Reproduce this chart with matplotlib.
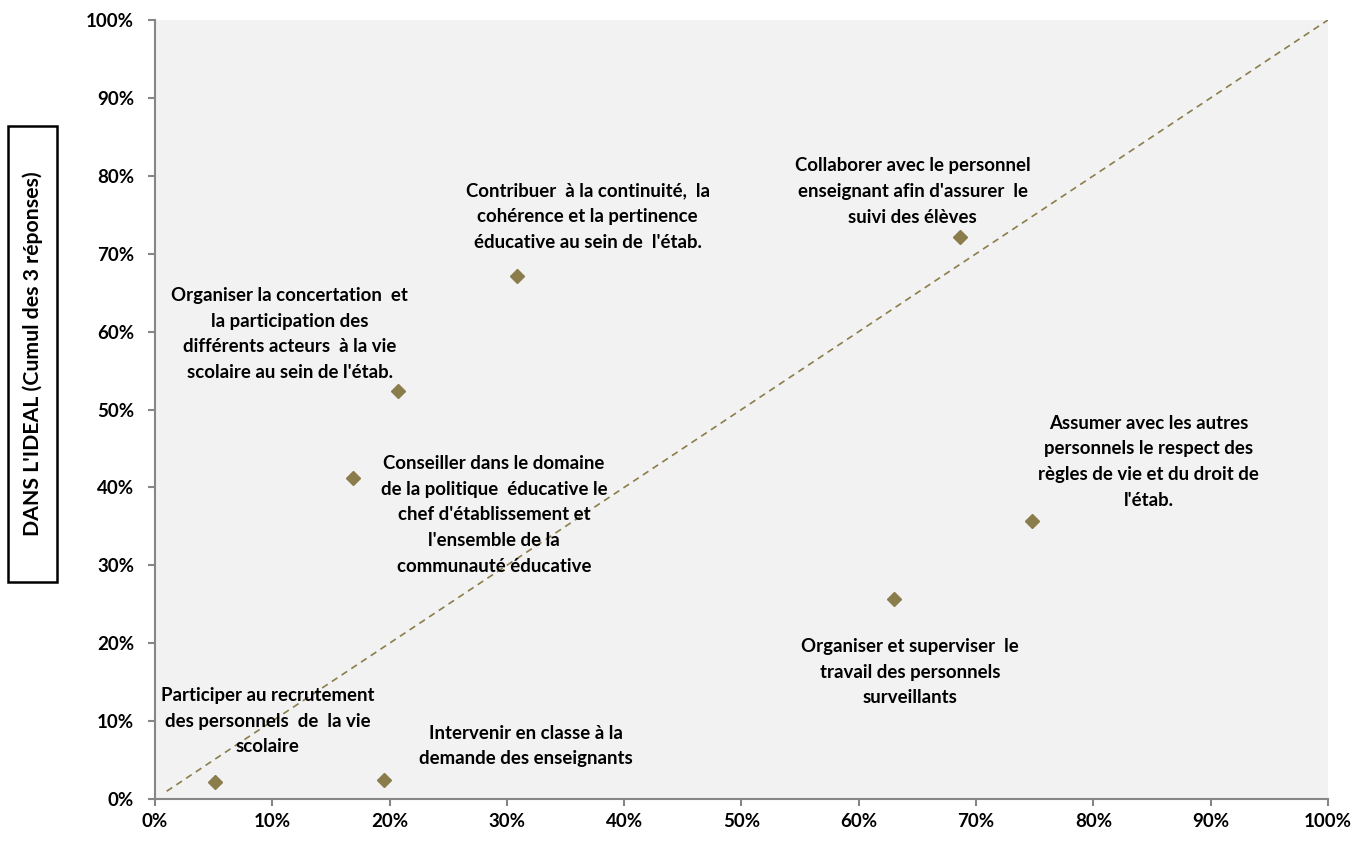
import matplotlib
matplotlib.use("Agg")
import matplotlib.pyplot as plt
from matplotlib.patches import Rectangle
from matplotlib.ticker import PercentFormatter

plt.rcParams['font.family'] = ['Lato', 'DejaVu Sans']

# valeurs (en %)
labels = [
    "Participer au recrutement\ndes personnels  de  la vie\nscolaire",
    "Intervenir en classe à la\ndemande des enseignants",
    "Conseiller dans le domaine\nde la politique  éducative le\nchef d'établissement et\nl'ensemble de la\ncommunauté éducative",
    "Organiser la concertation  et\nla participation des\ndifférents acteurs  à la vie\nscolaire au sein de l'étab.",
    "Contribuer  à la continuité,  la\ncohérence et la pertinence\néducative au sein de  l'étab.",
    "Collaborer avec le personnel\nenseignant afin d'assurer  le\nsuivi des élèves",
    "Organiser et superviser  le\ntravail des personnels\nsurveillants",
    "Assumer avec les autres\npersonnels le respect des\nrègles de vie et du droit de\nl'étab.",
]
x_vals = [5.1, 19.5, 16.9, 20.7, 30.9, 68.6, 63.0, 74.8]
y_vals = [2.2, 2.4, 41.2, 52.4, 67.1, 72.1, 25.7, 35.7]
label_x = [9.6, 31.6, 28.9, 11.5, 36.9, 64.6, 64.4, 84.7]
label_y = [10.0, 6.8, 36.5, 59.7, 74.8, 78.0, 16.3, 43.3]

diag_x = [1, 100]
diag_y = [1, 100]

fig = plt.figure(figsize=(13.52, 8.41), dpi=100)
ax = fig.add_axes([0.1146, 0.0499, 0.8676, 0.9263])
ax.set_facecolor('#f2f2f2')

ax.plot(diag_x, diag_y, linestyle=(0, (4, 3)), color='#8b7d4b', linewidth=1.2)
ax.plot(x_vals, y_vals, linestyle='none', marker='D', markersize=7,
        color='#8b7d4b', markeredgecolor='#8b7d4b')

for lab, lx, ly in zip(labels, label_x, label_y):
    ax.text(lx, ly, lab, ha='center', va='center', fontsize=13.4,
            fontweight='bold', linespacing=1.62, color='black')

ax.set_xlim(0, 100)
ax.set_ylim(0, 100)
ax.set_xticks(range(0, 101, 10))
ax.set_yticks(range(0, 101, 10))
ax.xaxis.set_major_formatter(PercentFormatter(decimals=0))
ax.yaxis.set_major_formatter(PercentFormatter(decimals=0))
ax.tick_params(axis='both', direction='out', length=5, width=1.5,
               color='#868686', labelsize=13.5)
ax.tick_params(axis='x', pad=5)
ax.tick_params(axis='y', pad=10)
for t in ax.get_xticklabels() + ax.get_yticklabels():
    t.set_fontweight('bold')

for side in ['top', 'right']:
    ax.spines[side].set_visible(False)
for side in ['left', 'bottom']:
    ax.spines[side].set_color('#868686')
    ax.spines[side].set_linewidth(1.5)

# cadre du titre de l'axe Y
fig.patches.append(Rectangle((0.0059, 0.308), 0.0362, 0.542, transform=fig.transFigure,
                             facecolor='white', edgecolor='black', linewidth=1.8))
fig.text(0.0244, 0.579, "DANS L'IDEAL (Cumul des 3 réponses)", rotation=90,
         ha='center', va='center', fontsize=15.3, fontweight='bold')

fig.savefig('out.png', dpi=100)
